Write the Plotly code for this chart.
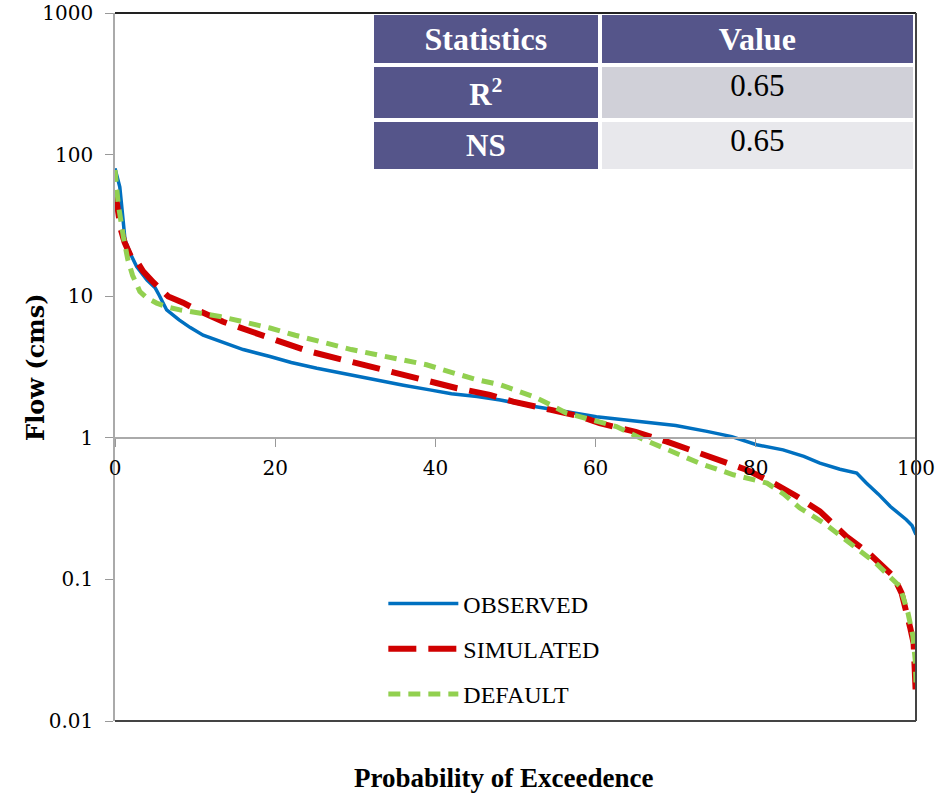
import plotly.graph_objects as go

# ---- data ----
obs_p = [0, 0.3, 0.6, 1.0, 1.25, 2.0, 2.7, 4.0, 5.0, 5.5, 6.45, 8.0, 9.4, 11, 13.1, 16, 19.35, 22, 25.2, 29,
         32.7, 36, 39.3, 42, 45.2, 48.1, 51.4, 54, 56.4, 60.1, 64, 67.6, 70, 73.9, 77, 80.1, 83.4, 86, 88.0,
         90.5, 92.6, 93.8, 95.3, 96.8, 98.0, 98.8, 99.5, 100]
obs_q = [80, 70, 59, 35, 25, 19.5, 16.2, 13.0, 11.5, 10.2, 8.0, 6.8, 6.0, 5.3, 4.79, 4.2, 3.75, 3.4, 3.1, 2.8,
         2.57, 2.35, 2.18, 2.05, 1.96, 1.85, 1.70, 1.60, 1.53, 1.41, 1.33, 1.27, 1.22, 1.11, 1.02, 0.893, 0.822,
         0.74, 0.662, 0.6, 0.563, 0.479, 0.40, 0.327, 0.29, 0.264, 0.24, 0.207]

sim_p = [0, 0.3, 0.7, 1.2, 2.0, 2.6, 3.5, 4.8, 5.5, 6.65, 8.5, 10.2, 13.5, 17.3, 21, 24.3, 28, 32.2, 36, 39.3,
         42.7, 46.8, 49.7, 54.3, 58, 60.5, 65, 68.9, 72, 75.5, 79, 82.2, 85, 88.0, 91.3, 94, 97.2, 98.2, 98.8,
         99.3, 99.7, 100]
sim_q = [56, 45, 30, 24, 19, 18.1, 15, 12.5, 11.5, 9.95, 9.0, 8.0, 6.6, 5.49, 4.7, 4.07, 3.6, 3.19, 2.8, 2.5,
         2.24, 2.01, 1.80, 1.58, 1.42, 1.27, 1.1, 0.94, 0.82, 0.70, 0.59, 0.479, 0.39, 0.302, 0.201, 0.155,
         0.105, 0.08, 0.061, 0.045, 0.0355, 0.0141]

def_p = [0, 0.4, 1.04, 1.6, 2.2, 3.1, 4.0, 5.2, 6.5, 8.1, 10.5, 13.1, 16, 19.35, 22.5, 26, 29.5, 32.7, 36, 38.9,
         42, 45.2, 48.1, 52.2, 54.3, 56.4, 59.5, 62.6, 65.5, 68.9, 73, 77.2, 81.4, 83.5, 85.5, 88.5, 91.8, 95,
         98.0, 99.0, 99.6, 99.9, 100]
def_q = [78, 45, 26.4, 18.1, 14, 10.8, 9.7, 8.94, 8.4, 8.0, 7.6, 7.19, 6.6, 5.96, 5.3, 4.67, 4.2, 3.86, 3.55, 3.28,
         2.9, 2.57, 2.37, 1.96, 1.72, 1.49, 1.34, 1.20, 1.0, 0.82, 0.66, 0.548, 0.479, 0.40, 0.319, 0.25, 0.18,
         0.13, 0.089, 0.058, 0.04, 0.027, 0.0187]

series_names = ["OBSERVED", "SIMULATED", "DEFAULT"]

x_ticks = [0, 20, 40, 60, 80, 100]
y_ticks = [0.01, 0.1, 1, 10, 100, 1000]
y_tick_text = ["0.01", "0.1", "1", "10", "100", "1000"]

table_header = ["Statistics", "Value"]
stat_names = ["R<sup>2</sup>", "NS"]
stat_values = ["0.65", "0.65"]

# ---- figure ----
SERIF = "Liberation Serif, Times New Roman, serif"
WIDE_SERIF = "DejaVu Serif, serif"
PURPLE = "#55558a"

fig = go.Figure()
fig.add_trace(go.Scatter(x=obs_p, y=obs_q, mode="lines", name=series_names[0], legendgroup="a",
                         line=dict(color="#0070c0", width=3.5)))
fig.add_trace(go.Scatter(x=sim_p, y=sim_q, mode="lines", name=series_names[1], legendgroup="b",
                         line=dict(color="#d00000", width=6, dash="28px,12px")))
fig.add_trace(go.Scatter(x=def_p, y=def_q, mode="lines", name=series_names[2], legendgroup="c",
                         line=dict(color="#92d050", width=5, dash="12px,8px")))

fig.add_trace(go.Table(
    domain=dict(x=[0.321, 1.0], y=[0.775, 1.0]),
    columnwidth=[227, 315],
    header=dict(values=[f"<b>{h}</b>" for h in table_header],
                fill_color=PURPLE, line=dict(color="white", width=4),
                font=dict(family=SERIF, size=32, color="white"), align="center", height=38),
    cells=dict(values=[[f"<b>{s}</b>" for s in stat_names], stat_values],
               fill_color=[[PURPLE] * len(stat_names), ["#d0d0d8", "#e8e8ec"]],
               line=dict(color="white", width=4),
               font=dict(family=SERIF, size=31, color=[["white"] * len(stat_names), ["black"] * len(stat_values)]),
               align="center", height=46),
))

fig.update_layout(
    width=951, height=797,
    margin=dict(l=115, r=35, t=13, b=76, autoexpand=False),
    plot_bgcolor="white", paper_bgcolor="white",
    showlegend=True,
    legend=dict(x=0.335, y=0.197, xanchor="left", yanchor="top", bgcolor="rgba(0,0,0,0)",
                font=dict(family=SERIF, size=24, color="black"),
                traceorder="grouped", tracegroupgap=11, itemwidth=70),
    xaxis=dict(range=[0, 100], tickvals=x_ticks, ticks="outside", ticklen=8, tickcolor="#999",
               showline=True, linecolor="#aaa", linewidth=1.5, showgrid=False, zeroline=False,
               anchor="free", position=0.4, automargin=False, ticklabelstandoff=4,
               tickfont=dict(family=WIDE_SERIF, size=20, color="black")),
    yaxis=dict(type="log", range=[-2, 3], tickvals=y_ticks, ticktext=y_tick_text, ticks="outside",
               ticklen=8, tickcolor="#999", showline=True, linecolor="#aaa", linewidth=1.5,
               showgrid=False, zeroline=False, automargin=False, ticklabelstandoff=8,
               tickfont=dict(family=WIDE_SERIF, size=20, color="black")),
    annotations=[
        dict(text="<b>Probability of Exceedence</b>", xref="paper", yref="paper", x=0.485, y=-0.08,
             xanchor="center", yanchor="middle", showarrow=False,
             font=dict(family=SERIF, size=27, color="black")),
        dict(text="<b>Flow (cms)</b>", xref="paper", yref="paper", x=-0.1, y=0.5, textangle=-90,
             xanchor="center", yanchor="middle", showarrow=False,
             font=dict(family=WIDE_SERIF, size=24, color="black")),
    ],
    shapes=[
        dict(type="line", xref="paper", yref="paper", x0=0, x1=1, y0=1, y1=1, line=dict(color="#222", width=2)),
        dict(type="line", xref="paper", yref="paper", x0=1, x1=1, y0=0, y1=1, line=dict(color="#444", width=2)),
        dict(type="line", xref="paper", yref="paper", x0=0, x1=1, y0=0, y1=0, line=dict(color="#444", width=2)),
    ],
)

fig.write_html("out.html")
